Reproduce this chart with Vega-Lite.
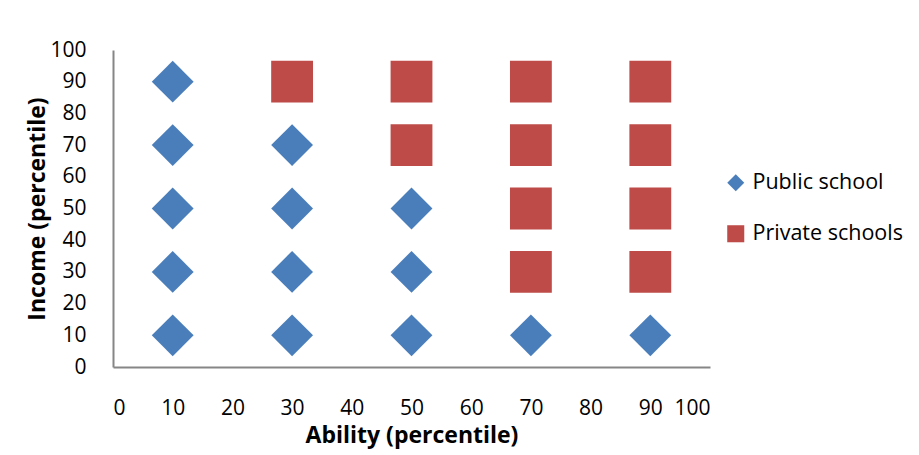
{
  "$schema": "https://vega.github.io/schema/vega-lite/v6.json",
  "width": 597,
  "height": 317,
  "autosize": {"type": "none"},
  "padding": {"left": 113, "top": 50, "right": 209, "bottom": 88},
  "background": "white",
  "data": {
    "values": [
      {"ability": 10, "income": 10, "school": "Public school"},
      {"ability": 10, "income": 30, "school": "Public school"},
      {"ability": 10, "income": 50, "school": "Public school"},
      {"ability": 10, "income": 70, "school": "Public school"},
      {"ability": 10, "income": 90, "school": "Public school"},
      {"ability": 30, "income": 10, "school": "Public school"},
      {"ability": 30, "income": 30, "school": "Public school"},
      {"ability": 30, "income": 50, "school": "Public school"},
      {"ability": 30, "income": 70, "school": "Public school"},
      {"ability": 50, "income": 10, "school": "Public school"},
      {"ability": 50, "income": 30, "school": "Public school"},
      {"ability": 50, "income": 50, "school": "Public school"},
      {"ability": 70, "income": 10, "school": "Public school"},
      {"ability": 90, "income": 10, "school": "Public school"},
      {"ability": 30, "income": 90, "school": "Private schools"},
      {"ability": 50, "income": 70, "school": "Private schools"},
      {"ability": 50, "income": 90, "school": "Private schools"},
      {"ability": 70, "income": 30, "school": "Private schools"},
      {"ability": 70, "income": 50, "school": "Private schools"},
      {"ability": 70, "income": 70, "school": "Private schools"},
      {"ability": 70, "income": 90, "school": "Private schools"},
      {"ability": 90, "income": 30, "school": "Private schools"},
      {"ability": 90, "income": 50, "school": "Private schools"},
      {"ability": 90, "income": 70, "school": "Private schools"},
      {"ability": 90, "income": 90, "school": "Private schools"}
    ]
  },
  "mark": {"type": "point", "filled": true, "opacity": 1, "strokeWidth": 0, "size": 1750},
  "encoding": {
    "x": {
      "field": "ability",
      "type": "quantitative",
      "scale": {"domain": [0, 100], "nice": false, "zero": true},
      "axis": {
        "title": "Ability (percentile)",
        "values": [0, 10, 20, 30, 40, 50, 60, 70, 80, 90, 100],
        "grid": false,
        "ticks": false,
        "labelPadding": 30,
        "titlePadding": 6
      }
    },
    "y": {
      "field": "income",
      "type": "quantitative",
      "scale": {"domain": [0, 100], "nice": false},
      "axis": {
        "title": "Income (percentile)",
        "values": [0, 10, 20, 30, 40, 50, 60, 70, 80, 90, 100],
        "grid": false,
        "ticks": false,
        "labelPadding": 27,
        "titlePadding": 0
      }
    },
    "color": {
      "field": "school",
      "type": "nominal",
      "scale": {"domain": ["Public school", "Private schools"], "range": ["#4A7EBB", "#BE4B48"]},
      "legend": {"title": null}
    },
    "shape": {
      "field": "school",
      "type": "nominal",
      "scale": {"domain": ["Public school", "Private schools"], "range": ["diamond", "square"]},
      "legend": {"title": null}
    }
  },
  "config": {
    "font": "Open Sans",
    "view": {"stroke": null},
    "axis": {
      "domainColor": "#868686",
      "domainWidth": 2,
      "labelFont": "Open Sans",
      "labelFontSize": 21,
      "labelColor": "#000000",
      "titleFont": "Open Sans",
      "titleFontSize": 23,
      "titleFontWeight": "bold",
      "titleColor": "#000000"
    },
    "legend": {
      "orient": "none",
      "legendX": 612,
      "legendY": 122,
      "padding": 0,
      "labelFont": "Open Sans",
      "labelFontSize": 21.5,
      "labelColor": "#000000",
      "symbolSize": 290,
      "symbolStrokeWidth": 0,
      "symbolOpacity": 1,
      "rowPadding": 28,
      "labelOffset": 6
    }
  }
}
